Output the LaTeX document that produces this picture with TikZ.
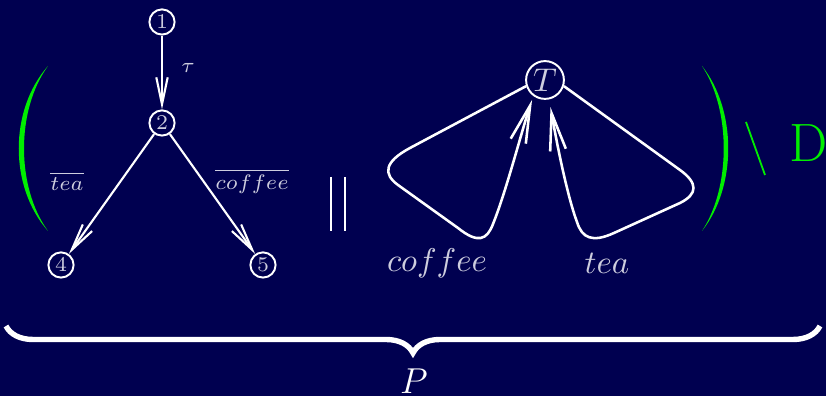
\documentclass[tikz,border=0pt]{standalone}
\usepackage{tikz}
\usetikzlibrary{arrows.meta, decorations.pathreplacing}

\definecolor{fondnuit}{RGB}{0,0,80}
\definecolor{gristexte}{RGB}{205,205,222}
\definecolor{vertvif}{RGB}{0,238,0}

\begin{document}
\begin{tikzpicture}[
  x=0.3333pt, y=-0.3333pt,
  etat/.style={
    circle, draw=white, line width=0.65pt, inner sep=0pt,
    minimum size=8.4pt, text=gristexte, font=\fontsize{7.3}{8}\selectfont
  },
  grandetat/.style={
    etat, minimum size=12.6pt, font=\fontsize{10.7}{12}\selectfont
  },
  fleche/.style={
    -{Straight Barb[length=9pt, width=3.8pt]},
    line width=0.7pt, draw=white
  },
  boucle/.style={
    -{Straight Barb[length=12.5pt, width=5.3pt]},
    line width=0.85pt, draw=white
  },
  lab/.style={text=gristexte, font=\fontsize{7.5}{9}\selectfont},
  grandlab/.style={text=gristexte, font=\fontsize{11.2}{13}\selectfont},
  paren/.style={fill=vertvif, draw=none}
]
\useasboundingbox[fill=fondnuit] (0,0) rectangle (826,396);

% --- 1. Le processus de gauche ---
\node[etat] (n1) at (162,22) {$1$};
\node[etat] (n2) at (162,123) {$2$};
\node[etat] (n4) at (61,265) {$4$};
\node[etat] (n5) at (263,265) {$5$};

\draw[fleche] (n1) -- (n2);
\draw[fleche] (n2) -- (n4);
\draw[fleche] (n2) -- (n5);
\node[lab] at (188,68) {$\tau$};
\node[lab] at (67,181) {$\overline{tea}$};
\node[lab] at (252,181) {$\overline{coffee}$};

% --- 2. Le processus de droite ---
\node[grandetat] (T) at (545,80) {$T$};
\draw[boucle, shorten >=1.3pt]
  (T.198) -- (410,148) .. controls (384,162) and (383,174) .. (398,185)
  -- (458,228) .. controls (478,244) and (487,240) .. (493,224)
  .. controls (506,192) and (522,130) .. (T.234);
\draw[boucle, shorten >=2.6pt]
  (T.342) -- (680,170) .. controls (698,183) and (698,194) .. (680,203)
  -- (614,233) .. controls (592,243) and (582,238) .. (577,222)
  .. controls (568,198) and (558,150) .. (T.282);
\node[grandlab] at (437,263) {$coffee$};
\node[grandlab] at (607,263) {$tea$};

% barres paralleles
\foreach \x in {331,345}
  \draw[white, line width=0.65pt] (\x,177) -- (\x,231);

% --- 3. Parentheses vertes et restriction ---
\fill[paren] (48,66) .. controls (9,110) and (9,187) .. (48,231)
  .. controls (16,187) and (16,110) .. cycle;
\fill[paren] (702,66) .. controls (737,110) and (737,187) .. (702,231)
  .. controls (731,187) and (731,110) .. cycle;
\draw[vertvif, line width=0.6pt] (746,122) -- (765,175);
\node[anchor=base west, text=vertvif, inner sep=0pt,
  font=\fontsize{18}{20}\selectfont] at (789,162) {D};

% --- 4. Accolade ---
\draw[white, line width=1.8pt,
  decorate, decoration={brace, mirror, amplitude=9pt}]
  (6,326) -- (820,326);
\node[text=white, font=\fontsize{13}{15}\selectfont] at (414,381) {$P$};

\end{tikzpicture}
\end{document}
